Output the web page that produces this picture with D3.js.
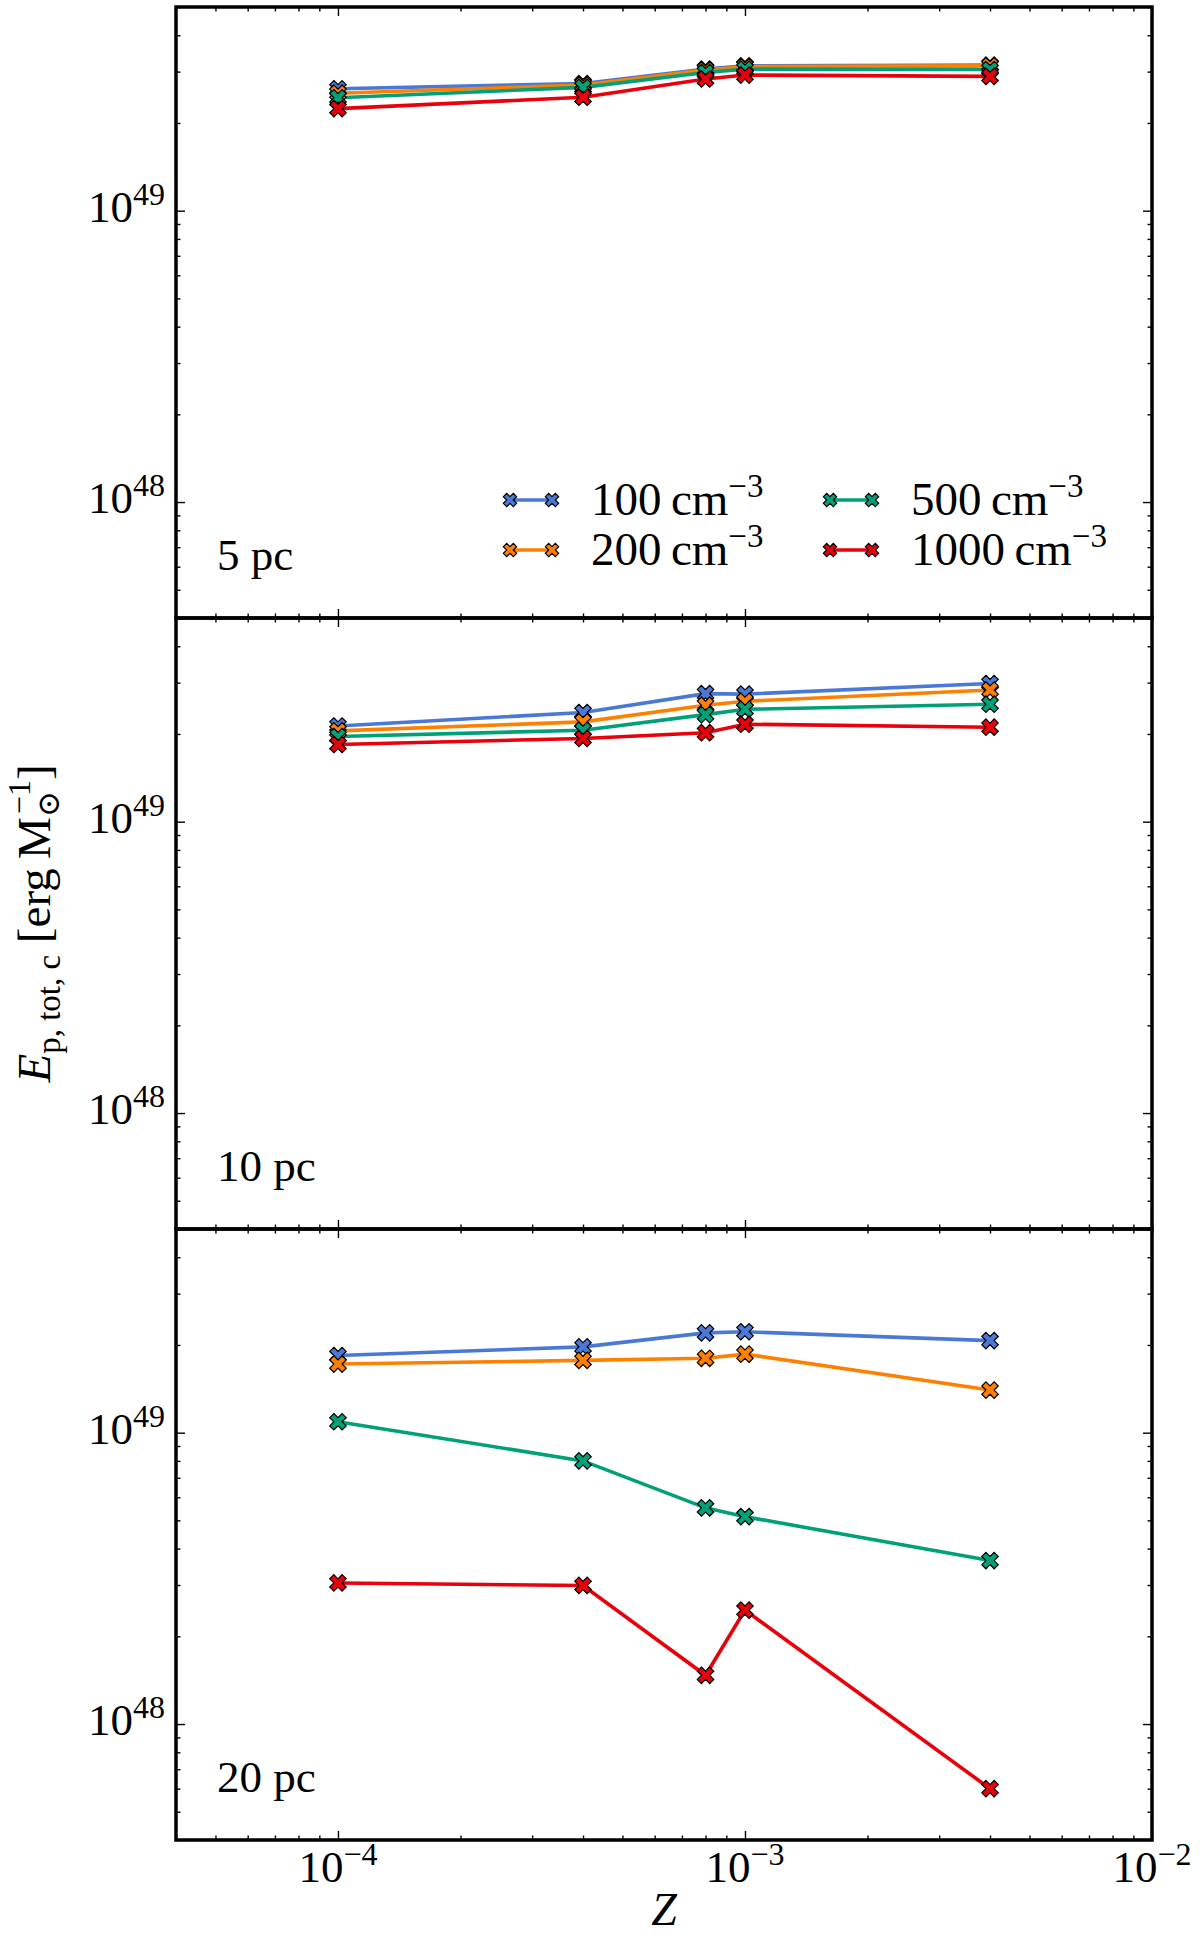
<!DOCTYPE html>
<html>
<head>
<meta charset="utf-8">
<script src="https://cdn.jsdelivr.net/npm/d3@7"></script>
<style>
  body { margin: 0; background: #fff; }
  text { font-family: "Liberation Serif", "DejaVu Serif", serif; fill: #000; }
</style>
</head>
<body>
<div class="graph-container"></div>
<script>
// metallicities on the x axis
const zValues = [1e-4, 4e-4, 8e-4, 1e-3, 4e-3];

// one label per panel (cloud radius)
const panelLabels = ["5 pc", "10 pc", "20 pc"];

// densities in the legend
const densities = ["100", "200", "500", "1000"];
const colors = ["#4a78d6", "#ff8000", "#00a078", "#e8000b"];

// E_p,tot,c [erg / Msun], one row per density (100, 200, 500, 1000)
const e5pc = [
  [2.62e49, 2.73e49, 3.06e49, 3.14e49, 3.16e49],
  [2.53e49, 2.70e49, 3.04e49, 3.12e49, 3.14e49],
  [2.44e49, 2.65e49, 2.98e49, 3.06e49, 3.05e49],
  [2.24e49, 2.45e49, 2.83e49, 2.92e49, 2.89e49]
];
const e10pc = [
  [2.13e49, 2.37e49, 2.75e49, 2.74e49, 2.98e49],
  [2.05e49, 2.20e49, 2.51e49, 2.59e49, 2.83e49],
  [1.96e49, 2.06e49, 2.33e49, 2.43e49, 2.53e49],
  [1.84e49, 1.93e49, 2.02e49, 2.16e49, 2.11e49]
];
const e20pc = [
  [1.84e49, 1.97e49, 2.20e49, 2.22e49, 2.07e49],
  [1.72e49, 1.77e49, 1.80e49, 1.86e49, 1.40e49],
  [1.09e49, 8.0e48, 5.52e48, 5.15e48, 3.64e48],
  [3.05e48, 2.99e48, 1.47e48, 2.46e48, 6.0e47]
];
const panelData = [e5pc, e10pc, e20pc];

const xDomain = [4e-5, 1e-2];
const yDomain = [4e47, 5e49];

let dims = { width: 1200, height: 1938, left: 176, right: 1152, top: 7, panelH: 611 };

const svg = d3.select(".graph-container")
  .append("svg")
  .attr("width", dims.width)
  .attr("height", dims.height);

const x = d3.scaleLog().domain(xDomain).range([dims.left, dims.right]);

const isMajor = v => Math.abs(Math.log10(v) - Math.round(Math.log10(v))) < 1e-6;

const marker = d3.symbol().type(d3.symbolCross);

let drawMarker = (sel, cx, cy, color, size) => {
  sel.append("path")
    .attr("d", marker.size(size)())
    .attr("transform", `translate(${cx},${cy}) rotate(45)`)
    .attr("fill", color)
    .attr("stroke", "#000")
    .attr("stroke-width", 1.2);
};

// "10^n" label with superscript
let powLabel = (sel, px, py, exp, anchor) => {
  const t = sel.append("text")
    .attr("x", px).attr("y", py)
    .attr("text-anchor", anchor)
    .attr("font-size", 45);
  t.append("tspan").text("10");
  t.append("tspan").attr("dy", -17).attr("font-size", 32)
    .text(exp < 0 ? "\u2212" + (-exp) : exp);
};

panelData.forEach((series, p) => {
  const top = dims.top + p * dims.panelH;
  const bottom = top + dims.panelH;
  const y = d3.scaleLog().domain(yDomain).range([bottom, top]);

  const g = svg.append("g").attr("class", "panel");

  // ticks on all four sides, pointing inward
  const xt = x.ticks();
  const yt = y.ticks();
  [[d3.axisBottom(x), bottom], [d3.axisTop(x), top]].forEach(([ax, pos]) => {
    g.append("g").attr("transform", `translate(0,${pos})`)
      .call(ax.tickValues(xt.filter(isMajor)).tickSizeInner(-9).tickSizeOuter(0).tickFormat(""))
      .call(s => s.select(".domain").remove());
    g.append("g").attr("transform", `translate(0,${pos})`)
      .call(ax.tickValues(xt.filter(v => !isMajor(v))).tickSizeInner(-4.5).tickSizeOuter(0).tickFormat(""))
      .call(s => s.select(".domain").remove());
  });
  [[d3.axisLeft(y), dims.left], [d3.axisRight(y), dims.right]].forEach(([ax, pos]) => {
    g.append("g").attr("transform", `translate(${pos},0)`)
      .call(ax.tickValues(yt.filter(isMajor)).tickSizeInner(-9).tickSizeOuter(0).tickFormat(""))
      .call(s => s.select(".domain").remove());
    g.append("g").attr("transform", `translate(${pos},0)`)
      .call(ax.tickValues(yt.filter(v => !isMajor(v))).tickSizeInner(-4.5).tickSizeOuter(0).tickFormat(""))
      .call(s => s.select(".domain").remove());
  });
  g.selectAll(".tick line").attr("stroke", "#000").attr("stroke-width", 1.4);

  // y tick labels
  yt.filter(isMajor).forEach(v => {
    powLabel(g, dims.left - 11, y(v) + 11, Math.round(Math.log10(v)), "end");
  });

  // series
  const line = d3.line().x((d, i) => x(zValues[i])).y(d => y(d));
  series.forEach((vals, k) => {
    g.append("path")
      .attr("d", line(vals))
      .attr("fill", "none")
      .attr("stroke", colors[k])
      .attr("stroke-width", 3.6);
  });
  series.forEach((vals, k) => {
    vals.forEach((v, i) => drawMarker(g, x(zValues[i]), y(v), colors[k], 170));
  });

  // frame
  g.append("rect")
    .attr("x", dims.left).attr("y", top)
    .attr("width", dims.right - dims.left).attr("height", dims.panelH)
    .attr("fill", "none").attr("stroke", "#000").attr("stroke-width", 3.5);

  // panel label
  g.append("text")
    .attr("x", dims.left + 41).attr("y", bottom - 48)
    .attr("font-size", 45)
    .text(panelLabels[p]);

  // legend only in the first panel
  if (p === 0) {
    const legend = g.append("g").attr("class", "legend");
    densities.forEach((d, k) => {
      const col = Math.floor(k / 2), row = k % 2;
      const lx = 510 + col * 320, ly = 500 + row * 50;
      legend.append("line")
        .attr("x1", lx).attr("x2", lx + 42).attr("y1", ly).attr("y2", ly)
        .attr("stroke", colors[k]).attr("stroke-width", 3.6);
      drawMarker(legend, lx, ly, colors[k], 110);
      drawMarker(legend, lx + 42, ly, colors[k], 110);
      const t = legend.append("text")
        .attr("x", lx + 81).attr("y", ly + 15)
        .attr("font-size", 47);
      t.append("tspan").text(d + "\u2009cm");
      t.append("tspan").attr("dy", -18).attr("font-size", 33).text("\u22123");
    });
  }

  // x tick labels under the last panel
  if (p === panelData.length - 1) {
    xt.filter(isMajor).forEach(v => {
      powLabel(g, x(v), bottom + 42, Math.round(Math.log10(v)), "middle");
    });
  }
});

// axis titles
svg.append("text")
  .attr("x", (dims.left + dims.right) / 2).attr("y", 1925)
  .attr("text-anchor", "middle")
  .attr("font-size", 46)
  .attr("font-style", "italic")
  .text("Z");

const ylab = svg.append("text")
  .attr("transform", `translate(50,${dims.top + 1.5 * dims.panelH}) rotate(-90)`)
  .attr("text-anchor", "middle")
  .attr("font-size", 47);
ylab.append("tspan").attr("font-style", "italic").text("E");
ylab.append("tspan").attr("dy", 10).attr("font-size", 33).text("p, tot, c");
ylab.append("tspan").attr("dy", -10).text(" [erg\u2009M");
ylab.append("tspan").attr("dy", 9).attr("font-size", 31).attr("font-family", "DejaVu Serif").text("\u2299");
ylab.append("tspan").attr("dx", -23).attr("dy", -29).attr("font-size", 32).text("\u22121");
ylab.append("tspan").attr("dy", 20).text("]");
</script>
</body>
</html>
